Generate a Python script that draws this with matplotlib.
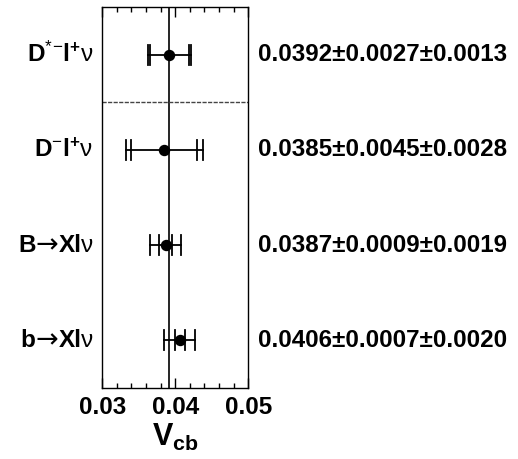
import matplotlib
matplotlib.use("Agg")
import matplotlib.pyplot as plt
import numpy as np
from matplotlib.ticker import MultipleLocator
from matplotlib.offsetbox import TextArea, HPacker, AnnotationBbox

plt.rcParams["font.family"] = ["Liberation Sans", "DejaVu Sans"]
plt.rcParams["mathtext.fontset"] = "custom"
plt.rcParams["mathtext.rm"] = "Liberation Sans"
plt.rcParams["mathtext.bf"] = "Liberation Sans:bold"
plt.rcParams["mathtext.it"] = "Liberation Sans:italic"

# Vcb determinations; each label is a list of (text, style) pieces
labels = [[(r"$\mathbf{D}^{*}{}^{-}\mathbf{l}^{\mathbf{+}}\mathrm{\nu}$", "n")],
          [(r"$\mathbf{D}^{-}\mathbf{l}^{\mathbf{+}}\mathrm{\nu}$", "n")],
          [("B", "b"), ("\u2192", "a"), ("Xl", "b"), ("\u03bd", "n")],
          [("b", "b"), ("\u2192", "a"), ("Xl", "b"), ("\u03bd", "n")]]
central = [0.0392, 0.0385, 0.0387, 0.0406]
stat_err = [0.0027, 0.0045, 0.0009, 0.0007]
syst_err = [0.0013, 0.0028, 0.0019, 0.0020]
reference_value = 0.0392
x_ticks = [0.03, 0.04, 0.05]
x_ticklabels = ["0.03", "0.04", "0.05"]

styles = {"n": dict(fontsize=17.5, fontweight="normal"),
          "b": dict(fontsize=17.5, fontweight="bold"),
          "a": dict(fontsize=19.5, fontweight="normal", family="DejaVu Sans")}

fig = plt.figure(figsize=(5.18, 4.59), dpi=100)
ax = fig.add_axes([0.1975, 0.1547, 0.2818, 0.8300])

ax.set_xlim(0.03, 0.05)
ax.set_ylim(4, 0)

rows = np.arange(len(central)) + 0.5
total_err = [np.hypot(s, t) for s, t in zip(stat_err, syst_err)]

ax.axvline(reference_value, color="black", lw=1.2, zorder=1)
ax.axhline(1.0, color="#444444", lw=1.0, ls=(0, (3, 1)), zorder=1)

for y, c, s, t in zip(rows, central, stat_err, total_err):
    ax.plot([c - t, c + t], [y, y], color="black", lw=1.3, zorder=2)
    for xe in (c - t, c + t, c - s, c + s):
        ax.plot([xe, xe], [y - 0.105, y + 0.105], color="black", lw=1.3, zorder=2)
    ax.plot(c, y, "o", color="black", ms=7.2, zorder=3)

for y, pieces in zip(rows, labels):
    areas = [TextArea(txt, textprops=styles[st]) for txt, st in pieces]
    box = HPacker(children=areas, align="baseline", pad=0, sep=0)
    ab = AnnotationBbox(box, (-0.06, y), xycoords=ax.get_yaxis_transform(),
                        box_alignment=(1.0, 0.5), frameon=False, pad=0,
                        annotation_clip=False)
    ax.add_artist(ab)

for y, c, s, t in zip(rows, central, stat_err, syst_err):
    ax.text(1.065, y, f"{c:.4f}\u00b1{s:.4f}\u00b1{t:.4f}",
            transform=ax.get_yaxis_transform(), ha="left", va="center",
            fontsize=17.4, fontweight="bold")

ax.set_xticks(x_ticks)
ax.set_xticklabels(x_ticklabels, fontsize=17.5, fontweight="bold")
ax.xaxis.set_minor_locator(MultipleLocator(0.002))
ax.tick_params(axis="x", which="both", direction="in", top=True, bottom=True)
ax.tick_params(axis="x", which="major", length=7, width=1.0, pad=6)
ax.tick_params(axis="x", which="minor", length=3.5, width=1.0)
ax.set_yticks([])
for sp in ax.spines.values():
    sp.set_linewidth(1.0)

ax.set_xlabel(r"$\mathbf{V_{cb}}$", fontsize=22, labelpad=2)

fig.savefig("out.png", dpi=100)
